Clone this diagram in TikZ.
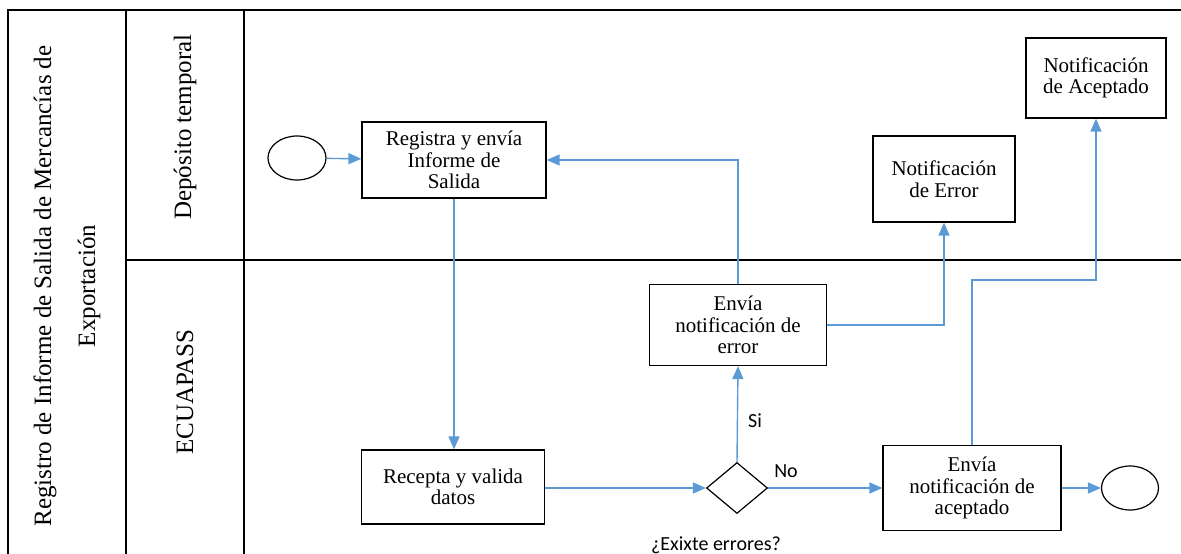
\documentclass[tikz,border=0pt]{standalone}
\usepackage{fontspec}
\setmainfont{Liberation Serif}
\newfontfamily\etiquetafont{Carlito}
\usetikzlibrary{shapes.geometric,arrows.meta}
\definecolor{flujo}{HTML}{5B9BD5}
\begin{document}
\begin{tikzpicture}[x=1pt,y=-1pt,
    carril/.style={line width=2pt},
    tarea/.style={draw,line width=1.2pt,align=center,inner sep=2pt,
        font=\fontsize{21}{21.5}\selectfont},
    evento/.style={draw,ellipse,line width=1.2pt,minimum width=58pt,minimum height=44pt},
    flecha/.style={draw=flujo,line width=1.4pt,-{Triangle[length=13pt,width=11pt]}},
    etiqueta/.style={font=\etiquetafont\fontsize{20}{22}\selectfont}]
    \useasboundingbox (0,0) rectangle (1181,554);
    % carriles
    \draw[carril] (8,554) -- (8,10) -- (1181,10);
    \draw[carril] (126,554) -- (126,10);
    \draw[carril] (244,554) -- (244,10);
    \draw[carril] (126,260) -- (1181,260);
    \node[rotate=90,align=center,font=\fontsize{25}{44}\selectfont] (titulo) at (67,286)
        {Registro de Informe de Salida de Mercancías de\\Exportación};
    \node[rotate=90,font=\fontsize{25}{30}\selectfont] (deposito) at (185,127) {Depósito temporal};
    \node[rotate=90,font=\fontsize{25}{30}\selectfont] (ecuapass) at (185,392) {ECUAPASS};
    % actividades
    \node[evento] (inicio) at (297,158) {};
    \node[tarea,minimum width=184pt,minimum height=76pt] (registra) at (454,160)
        {Registra y envía\\Informe de\\Salida};
    \node[tarea,minimum width=142pt,minimum height=86pt] (notiferror) at (944,179)
        {Notificación\\de Error};
    \node[tarea,minimum width=140pt,minimum height=80pt] (notifacept) at (1096,78)
        {Notificación\\de Aceptado};
    \node[tarea,minimum width=177pt,minimum height=81pt] (enviaerror) at (738,325)
        {Envía\\notificación de\\error};
    \node[tarea,minimum width=183pt,minimum height=74pt] (recepta) at (453,487)
        {Recepta y valida\\datos};
    \node[draw,diamond,line width=1.2pt,minimum width=61pt,minimum height=51pt,inner sep=0pt,
        aspect=1.2] (decision) at (737,488) {};
    \node[tarea,minimum width=178pt,minimum height=85pt] (enviaacept) at (972,488)
        {Envía\\notificación de\\aceptado};
    \node[evento,minimum width=57pt] (fin) at (1130,488) {};
    \coordinate (codo) at (973,280);
    % flujos
    \draw[flecha] (inicio) -- (registra);
    \draw[flecha] (registra.south) -- (registra.south |- recepta.north);
    \draw[flecha] (recepta.east |- decision) -- (decision.west);
    \draw[flecha] (decision.north) -- (enviaerror.south);
    \draw[flecha] (enviaerror.north) |- (registra.east);
    \draw[flecha] (enviaerror.east) -| (notiferror.south);
    \draw[flecha] (decision.east) -- (enviaacept.west |- decision);
    \draw[flecha] (enviaacept.north) -- (enviaacept.north |- codo) -| (notifacept.south);
    \draw[flecha] (enviaacept.east) -- (fin.west);
    \node[etiqueta] (si) at (755,421) {Si};
    \node[etiqueta] (no) at (786,471) {No};
    \node[etiqueta] (pregunta) at (716,545) {¿Exixte errores?};
\end{tikzpicture}
\end{document}
